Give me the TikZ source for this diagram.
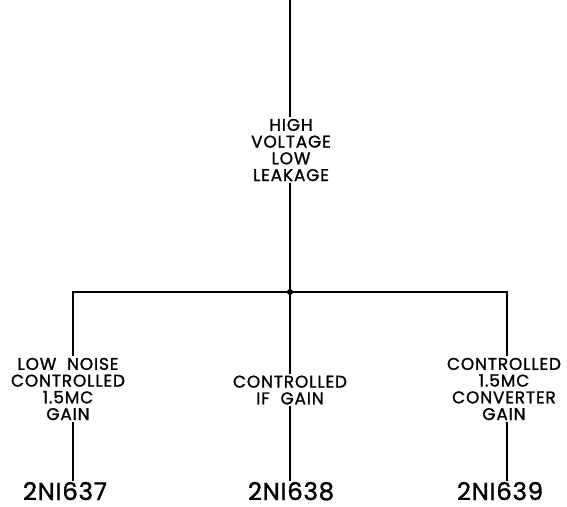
\documentclass[tikz,border=0pt]{standalone}
\usepackage{fontspec}
\setmainfont{Poppins}
\newfontfamily\lblfont[FakeBold=1.3,LetterSpace=5]{Poppins}
\newfontfamily\partfont[FakeBold=1.3,LetterSpace=3]{Poppins}
\begin{document}
\begin{tikzpicture}[x=1bp,y=-1bp,
  wire/.style={line width=1.8bp,black},
  lbl/.style={align=center,inner sep=1.5pt,font=\lblfont\fontsize{17}{16.8}\selectfont},
  part/.style={anchor=base,inner sep=1pt,text depth=0pt,font=\partfont\fontsize{24.5}{28}\selectfont}]
\useasboundingbox (0,0) rectangle (567,507);
\coordinate (top) at (290,0);
\node[lbl] (hv) at (291,150) {HIGH\\VOLTAGE\\LOW\\LEAKAGE};
\coordinate (jn) at (290,292);
\coordinate (bl) at (73,292);
\coordinate (br) at (507,292);
\node[lbl] (ll) at (68,389) {LOW\ \ NOISE\\CONTROLLED\\1.5MC\\GAIN};
\node[lbl] (ml) at (290,390) {CONTROLLED\\IF\ \ GAIN};
\node[lbl] (rl) at (504,389) {CONTROLLED\\1.5MC\\CONVERTER\\GAIN};
\node[part] (p1) at (65,500) {2NI637};
\node[part] (p2) at (291,500) {2NI638};
\node[part] (p3) at (500,500) {2NI639};
\draw[wire] (top) -- (top |- hv.north);
\draw[wire] (hv.south -| jn) -- (jn);
\draw[wire] (bl |- ll.north) -- (bl) -- (br) -- (br |- rl.north);
\draw[wire] (jn) -- (jn |- ml.north);
\draw[wire] (bl |- ll.south) -- (bl |- p1.north);
\draw[wire] (jn |- ml.south) -- (jn |- p2.north);
\draw[wire] (br |- rl.south) -- (br |- p3.north);
\fill (jn) circle (3bp);
\end{tikzpicture}
\end{document}
